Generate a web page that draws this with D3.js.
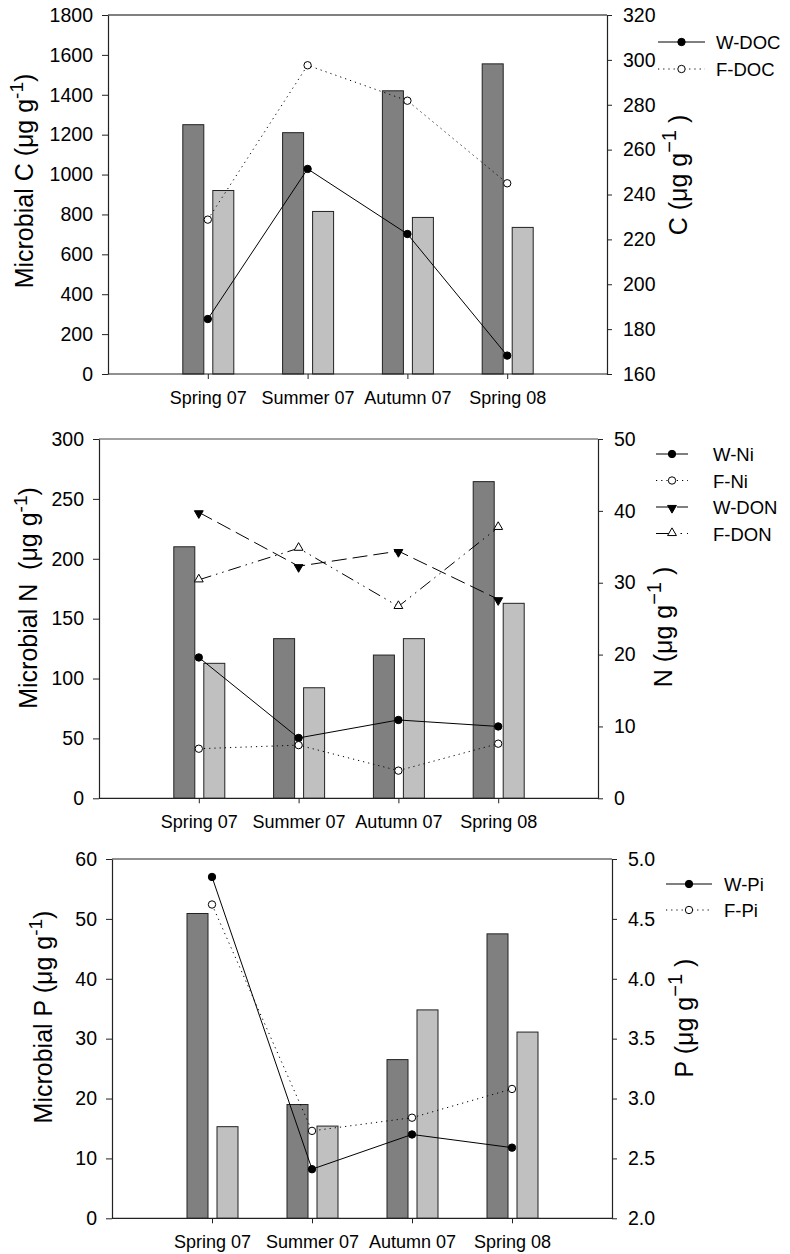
<!DOCTYPE html>
<html>
<head>
<meta charset="utf-8">
<script src="https://cdn.jsdelivr.net/npm/d3@7/dist/d3.min.js"></script>
<style>
  html, body { margin: 0; padding: 0; background: #fff; }
  svg { display: block; font-family: "Liberation Sans", Arial, sans-serif; }
</style>
</head>
<body>
<svg id="chart" width="790" height="1254"></svg>
<script>
// Sampling seasons shared by the three panels
const seasons = ["Spring 07", "Summer 07", "Autumn 07", "Spring 08"];

// Panel C: microbial biomass C (bars, left axis) and DOC (lines, right axis)
const microbialCW = [1250, 1210, 1420, 1555];
const microbialCF = [920, 815, 785, 735];
const docW = [184.5, 251.4, 222.4, 168.2];
const docF = [228.8, 297.6, 281.8, 245.0];
const cLeftTicks = [0, 200, 400, 600, 800, 1000, 1200, 1400, 1600, 1800];
const cRightTicks = [160, 180, 200, 220, 240, 260, 280, 300, 320];

// Panel N: microbial biomass N (bars) and inorganic N / DON (lines)
const microbialNW = [210, 133.3, 119.6, 264.4];
const microbialNF = [112.7, 92.3, 133.3, 162.8];
const niW = [19.6, 8.4, 10.9, 10.0];
const niF = [6.9, 7.4, 3.85, 7.6];
const donW = [39.8, 32.3, 34.4, 27.7];
const donF = [30.4, 34.8, 26.7, 37.7];
const nLeftTicks = [0, 50, 100, 150, 200, 250, 300];
const nRightTicks = [0, 10, 20, 30, 40, 50];

// Panel P: microbial biomass P (bars) and inorganic P (lines)
const microbialPW = [50.9, 19.0, 26.5, 47.5];
const microbialPF = [15.3, 15.4, 34.8, 31.1];
const piW = [4.85, 2.41, 2.70, 2.59];
const piF = [4.62, 2.73, 2.84, 3.08];
const pLeftTicks = [0, 10, 20, 30, 40, 50, 60];
const pRightTicks = [2.0, 2.5, 3.0, 3.5, 4.0, 4.5, 5.0];

const svg = d3.select("#chart");

const lineStyles = {
  solid: null,
  dotted: "1.2,4",
  longDash: "15,6",
  dashDotDot: "13,5,1.5,5,1.5,5"
};

function drawMarker(g, kind, x, y) {
  if (kind === "filledCircle" || kind === "openCircle") {
    g.append("circle").attr("cx", x).attr("cy", y).attr("r", 3.7)
      .attr("fill", kind === "filledCircle" ? "#000" : "#fff")
      .attr("stroke", "#000").attr("stroke-width", 1);
  } else {
    const down = kind === "filledDown";
    g.append("path")
      .attr("d", d3.symbol().type(d3.symbolTriangle).size(34)())
      .attr("transform", `translate(${x},${y + (down ? 1 : -0.5)}) rotate(${down ? 180 : 0})`)
      .attr("fill", down ? "#000" : "#fff")
      .attr("stroke", "#000").attr("stroke-width", 1);
  }
}

function panel(cfg) {
  const g = svg.append("g");
  const x = d3.scaleLinear().domain([0, 5]).range([cfg.x0, cfg.x1]);
  const yL = d3.scaleLinear().domain(cfg.leftDomain).range([cfg.yBot, cfg.yTop]);
  const yR = d3.scaleLinear().domain(cfg.rightDomain).range([cfg.yBot, cfg.yTop]);
  const pair = d3.scaleBand().domain(["W", "F"]).paddingInner(0.3).paddingOuter(0);

  // Bars: W (dark) and F (light) per season
  const barData = [];
  seasons.forEach((s, i) => {
    barData.push({ i, key: "W", v: cfg.barsW[i] });
    barData.push({ i, key: "F", v: cfg.barsF[i] });
  });
  g.selectAll("rect.bar").data(barData).join("rect")
    .attr("class", "bar")
    .attr("x", d => { pair.range([x(d.i + 1) - 25, x(d.i + 1) + 26]); return pair(d.key); })
    .attr("width", () => pair.range([0, 51]).bandwidth())
    .attr("y", d => yL(d.v))
    .attr("height", d => yL(cfg.leftDomain[0]) - yL(d.v))
    .attr("fill", d => d.key === "W" ? "#808080" : "#c0c0c0")
    .attr("stroke", "#222").attr("stroke-width", 1);

  // Top frame line
  g.append("line").attr("x1", cfg.x0).attr("x2", cfg.x1)
    .attr("y1", cfg.yTop).attr("y2", cfg.yTop)
    .attr("stroke", cfg.topColor).attr("stroke-width", cfg.topWidth);

  // Axes
  const axL = g.append("g").attr("transform", `translate(${cfg.x0},0)`)
    .call(d3.axisLeft(yL).tickValues(cfg.leftTicks).tickSize(6).tickSizeOuter(0).tickPadding(9)
      .tickFormat(d3.format("d")));
  const axR = g.append("g").attr("transform", `translate(${cfg.x1},0)`)
    .call(d3.axisRight(yR).tickValues(cfg.rightTicks).tickSize(5).tickSizeOuter(0).tickPadding(11)
      .tickFormat(cfg.rightFormat));
  const axB = g.append("g").attr("transform", `translate(0,${cfg.yBot})`)
    .call(d3.axisBottom(x).tickValues([1, 2, 3, 4]).tickSize(5).tickSizeOuter(0).tickPadding(12)
      .tickFormat(d => seasons[d - 1]));
  [axL, axR].forEach(a => a.selectAll("text").attr("font-size", 19.5));
  axB.selectAll("text").attr("font-size", 18);
  [axL, axR, axB].forEach(a => {
    a.selectAll("text").attr("fill", "#000")
      .attr("font-family", "'Liberation Sans', Arial, sans-serif");
    a.selectAll("path.domain").attr("stroke", "#222").attr("stroke-width", 1.2);
    a.selectAll(".tick line").attr("stroke", "#222");
  });
  axB.select("path.domain").attr("d", `M${cfg.x0},0H${cfg.x1}`);

  // Lines on the right axis
  const lineGen = d3.line().x((d, i) => x(i + 1)).y(d => yR(d));
  cfg.series.forEach(s => {
    g.append("path").datum(s.values).attr("d", lineGen)
      .attr("fill", "none").attr("stroke", "#000").attr("stroke-width", 1)
      .attr("stroke-dasharray", lineStyles[s.style]);
  });
  cfg.series.forEach(s => {
    s.values.forEach((v, i) => drawMarker(g, s.marker, x(i + 1), yR(v)));
  });

  // Legend
  cfg.series.forEach((s, k) => {
    const ly = cfg.legend.y0 + k * cfg.legend.dy;
    g.append("line").attr("x1", cfg.legend.lx0).attr("x2", cfg.legend.lx1)
      .attr("y1", ly).attr("y2", ly)
      .attr("stroke", "#000").attr("stroke-width", 1)
      .attr("stroke-dasharray", lineStyles[s.style]);
    drawMarker(g, s.marker, (cfg.legend.lx0 + cfg.legend.lx1) / 2, ly);
    g.append("text").attr("x", cfg.legend.tx).attr("y", ly + 7)
      .attr("font-size", 18.5).text(s.name);
  });

  // Left axis title
  const tl = g.append("text")
    .attr("transform", `translate(${cfg.leftTitle.x},${cfg.leftTitle.y}) rotate(-90)`)
    .attr("text-anchor", "middle").attr("font-size", 25);
  tl.append("tspan").text(cfg.leftTitle.text);
  tl.append("tspan").attr("dy", -10).attr("font-size", 19).text("-1");
  tl.append("tspan").attr("dy", 10).text(")");

  // Right axis title
  const tr = g.append("text")
    .attr("transform", `translate(${cfg.rightTitle.x},${cfg.rightTitle.y}) rotate(-90)`)
    .attr("text-anchor", "middle").attr("font-size", 25);
  tr.append("tspan").text(cfg.rightTitle.text);
  tr.append("tspan").attr("dy", -11).attr("font-size", 20).text("\u22121");
  tr.append("tspan").attr("dy", 11).text(" )");
}

panel({
  x0: 108, x1: 607, yTop: 15, yBot: 374,
  topColor: "#808080", topWidth: 2,
  leftDomain: [0, 1800], rightDomain: [160, 320],
  leftTicks: cLeftTicks, rightTicks: cRightTicks, rightFormat: d3.format("d"),
  barsW: microbialCW, barsF: microbialCF,
  series: [
    { name: "W-DOC", values: docW, style: "solid", marker: "filledCircle" },
    { name: "F-DOC", values: docF, style: "dotted", marker: "openCircle" }
  ],
  legend: { lx0: 658, lx1: 705, tx: 716, y0: 42, dy: 27 },
  leftTitle: { x: 33, y: 181, text: "Microbial C (\u03bcg g" },
  rightTitle: { x: 687, y: 175, text: "C (\u03bcg g" }
});

panel({
  x0: 99, x1: 598, yTop: 439, yBot: 798.3,
  topColor: "#444", topWidth: 1.2,
  leftDomain: [0, 300], rightDomain: [0, 50],
  leftTicks: nLeftTicks, rightTicks: nRightTicks, rightFormat: d3.format("d"),
  barsW: microbialNW, barsF: microbialNF,
  series: [
    { name: "W-Ni", values: niW, style: "solid", marker: "filledCircle" },
    { name: "F-Ni", values: niF, style: "dotted", marker: "openCircle" },
    { name: "W-DON", values: donW, style: "longDash", marker: "filledDown" },
    { name: "F-DON", values: donF, style: "dashDotDot", marker: "openUp" }
  ],
  legend: { lx0: 656, lx1: 688, tx: 713, y0: 454, dy: 26.5 },
  leftTitle: { x: 37, y: 598, text: "Microbial N\u00a0 (\u03bcg g" },
  rightTitle: { x: 672, y: 627, text: "N (\u03bcg g" }
});

panel({
  x0: 112, x1: 612, yTop: 859, yBot: 1218.3,
  topColor: "#222", topWidth: 1.2,
  leftDomain: [0, 60], rightDomain: [2, 5],
  leftTicks: pLeftTicks, rightTicks: pRightTicks, rightFormat: d3.format(".1f"),
  barsW: microbialPW, barsF: microbialPF,
  series: [
    { name: "W-Pi", values: piW, style: "solid", marker: "filledCircle" },
    { name: "F-Pi", values: piF, style: "dotted", marker: "openCircle" }
  ],
  legend: { lx0: 666, lx1: 712, tx: 724, y0: 884, dy: 26 },
  leftTitle: { x: 52, y: 1017, text: "Microbial P (\u03bcg g" },
  rightTitle: { x: 693, y: 1018, text: "P (\u03bcg g" }
});
</script>
</body>
</html>
